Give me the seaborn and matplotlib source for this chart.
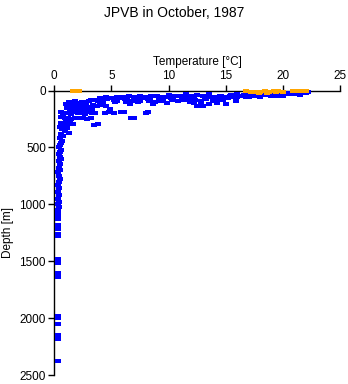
import matplotlib
matplotlib.use("Agg")
import matplotlib.pyplot as plt
import seaborn as sns
import pandas as pd

# ---- data ----
blue_temp = [
    22.2, 22.0, 21.7, 21.4, 21.1, 20.8, 20.5, 20.2, 19.9, 19.6, 19.3, 19.0, 18.7, 18.4, 18.1,
    17.8, 17.5, 17.2, 16.9, 16.6, 16.3, 16.0, 15.7, 15.4, 15.1, 21.0, 20.0, 19.0, 18.0, 17.0,
    21.5, 19.5, 17.5, 16.0, 15.5,
    12.2, 12.8, 13.5, 14.2, 15.0, 12.5, 13.0,
    4.0, 4.5, 5.0, 5.5, 6.0, 6.5, 7.0, 7.5, 8.0, 8.5, 9.0, 9.5, 10.0, 10.5, 11.0, 11.5, 12.0,
    12.5, 13.0, 13.5, 14.0, 14.5,
    4.2, 5.2, 6.2, 7.2, 8.2, 9.2, 10.2, 11.2, 12.2, 13.2, 14.2,
    3.0, 3.5, 2.5, 2.0, 1.5, 1.2, 3.8, 6.8, 9.5, 11.8,
    5.5, 7.5, 8.8, 10.8, 12.8,
    1.0, 1.3, 1.6, 1.9, 2.2, 2.5, 2.8, 3.1, 3.4, 3.7, 1.1, 1.5, 2.0, 2.6, 3.0, 4.0, 4.5,
    0.6, 0.9, 1.2, 1.5, 1.8, 2.1, 2.4, 2.7, 3.0, 3.3, 3.6, 4.4, 4.8, 5.2, 5.8, 6.1, 8.0, 8.2,
    0.6, 0.9, 1.2, 1.5, 1.8, 2.1, 2.5, 2.9, 3.2, 6.7, 7.0,
    0.6, 0.9, 1.2, 1.6, 3.5, 3.8,
    # extra points densifying the thermocline band
    1.3, 1.8, 2.4, 3.2, 4.6, 5.8, 6.4, 7.8, 8.4, 9.8, 10.4, 11.6, 13.6, 14.6, 15.6, 16.4, 14.8,
    15.2, 16.8, 17.4, 18.2, 19.2, 20.4, 21.2, 21.8,
    1.4, 2.3, 3.3, 4.3, 5.3, 6.3, 7.3, 8.3, 9.3, 10.3, 11.3, 12.3, 13.3, 14.3,
    2.9, 4.9, 6.6, 8.6, 9.9, 11.9, 13.9, 15.9,
    0.8, 1.0, 1.4, 0.7, 1.1, 0.9, 1.3,
    # deep column
    0.5, 0.7, 0.9, 0.6, 0.8, 0.5, 0.7, 0.6, 0.5, 0.4, 0.6, 0.5, 0.4, 0.5, 0.6, 0.4, 0.5, 0.4,
    0.5, 0.3, 0.4, 0.5, 0.4, 0.3, 0.4, 0.3, 0.4, 0.3, 0.4, 0.3, 0.4, 0.3, 0.3, 0.3, 0.3, 0.3,
    0.3, 0.3, 0.3, 0.3, 0.3, 0.3, 0.3, 0.3, 0.3, 0.3, 0.3, 0.3, 0.3, 0.3, 0.3, 0.3, 0.3,
]
blue_depth = [
    10, 20, 15, 25, 12, 30, 18, 28, 10, 35, 22, 30, 15, 40, 25,
    35, 20, 45, 30, 40, 50, 35, 55, 45, 60, 35, 45, 50, 55, 60,
    40, 45, 50, 60, 40,
    110, 115, 120, 110, 115, 140, 135,
    70, 60, 65, 55, 60, 50, 55, 45, 60, 50, 45, 55, 40, 50, 45, 35, 50,
    40, 45, 35, 55, 45,
    85, 80, 75, 80, 75, 70, 70, 65, 70, 65, 75,
    95, 85, 100, 110, 105, 115, 90, 90, 85, 85,
    95, 95, 100, 95, 90,
    120, 130, 125, 140, 120, 135, 125, 145, 130, 140, 150, 155, 150, 155, 160, 130, 140,
    190, 200, 195, 205, 190, 200, 195, 205, 190, 200, 195, 195, 190, 195, 185, 190, 195, 190,
    235, 245, 240, 250, 240, 245, 240, 250, 245, 245, 240,
    285, 290, 295, 290, 300, 295,
    100, 95, 105, 80, 75, 70, 80, 65, 70, 60, 65, 55, 55, 50, 50, 45, 80,
    70, 55, 45, 40, 35, 30, 22, 18,
    175, 170, 165, 110, 105, 100, 100, 95, 90, 85, 80, 80, 75, 85,
    170, 160, 115, 120, 110, 100, 95, 90,
    220, 260, 275, 310, 330, 350, 370,
    320, 340, 360, 380, 400, 420, 440, 460, 480, 500, 520, 540, 560, 580, 600, 620, 650, 680,
    700, 720, 750, 780, 800, 830, 860, 890, 920, 950, 980, 1000, 1020, 1050, 1080, 1100, 1130, 1180,
    1200, 1220, 1260, 1280, 1480, 1500, 1520, 1600, 1620, 1640, 1980, 2000, 2050, 2150, 2170, 2180, 2380,
]
orange_temp = [1.6, 1.9, 2.2, 16.8, 17.2, 17.6, 18.0, 18.4, 18.8, 19.2, 19.6, 20.0,
               20.9, 21.3, 21.7, 22.0, 17.9, 18.6, 19.4]
orange_depth = [0, 0, 0, 5, 10, 15, 10, 5, 10, 5, 8, 12,
                0, 5, 3, 8, 18, 20, 15]

x_ticks = [0, 5, 10, 15, 20, 25]
y_ticks = [0, 500, 1000, 1500, 2000, 2500]

# ---- plot ----
sns.set_theme(style="white")
plt.rcParams["font.family"] = ["Liberation Sans", "DejaVu Sans"]
plt.rcParams["text.color"] = "black"
plt.rcParams["axes.labelcolor"] = "black"

blue_df = pd.DataFrame({"Temperature": blue_temp, "Depth": blue_depth})
orange_df = pd.DataFrame({"Temperature": orange_temp, "Depth": orange_depth})

dash = [(-1.6, -1.0), (1.6, -1.0), (1.6, 1.0), (-1.6, 1.0), (-1.6, -1.0)]

fig = plt.figure(figsize=(3.48, 3.84), dpi=100)
ax = fig.add_axes([54.3 / 348, 1 - 375 / 384, (340 - 54.3) / 348, (375 - 90.5) / 384])

sns.scatterplot(data=blue_df, x="Temperature", y="Depth", ax=ax, color="#0000ff",
                marker=dash, s=14, linewidth=0, clip_on=False, zorder=3)
sns.scatterplot(data=orange_df, x="Temperature", y="Depth", ax=ax, color="#ffa500",
                marker=dash, s=14, linewidth=0, clip_on=False, zorder=4)

ax.set_xlim(0, 25)
ax.set_ylim(2500, 0)
ax.set_xticks(x_ticks)
ax.set_yticks(y_ticks)
ax.xaxis.tick_top()
ax.xaxis.set_label_position("top")
for side in ["bottom", "right"]:
    ax.spines[side].set_visible(False)
for side in ["top", "left"]:
    ax.spines[side].set_color("black")
    ax.spines[side].set_linewidth(1.0)
ax.tick_params(axis="both", which="major", direction="out", length=4, width=1,
               colors="black", labelsize=8.5, pad=2)
ax.tick_params(axis="x", top=True, bottom=False)
ax.tick_params(axis="y", left=True, right=False)
ax.set_xlabel("Temperature [°C]", fontsize=8.5, labelpad=4, color="black")
ax.set_ylabel("Depth [m]", fontsize=8.5, labelpad=4, color="black")
ax.grid(False)
fig.suptitle("JPVB in October, 1987", fontsize=10, y=0.985, color="black")

fig.savefig("out.png", dpi=100)
